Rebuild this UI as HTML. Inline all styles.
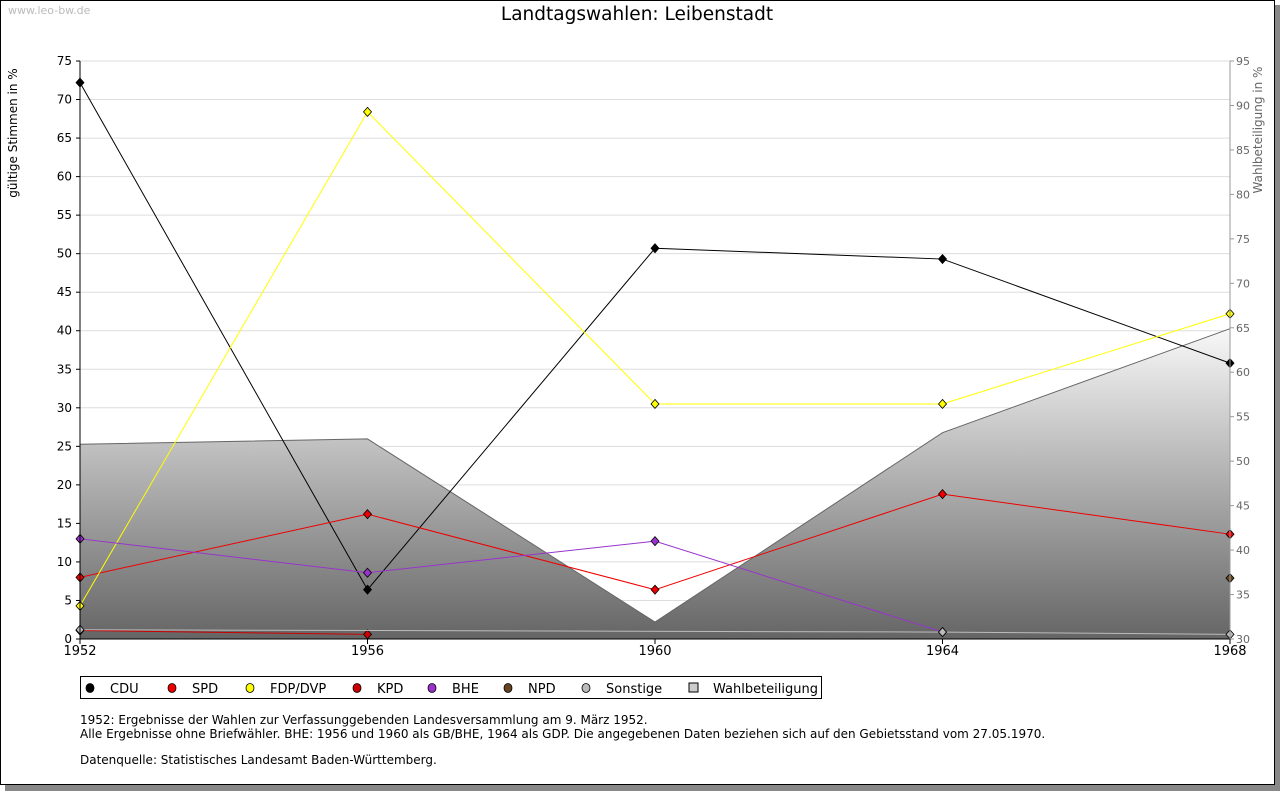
<!DOCTYPE html>
<html><head><meta charset="utf-8"><style>
body{margin:0;background:#fff;font-family:"DejaVu Sans","Liberation Sans",sans-serif;}
svg text{font-family:"DejaVu Sans","Liberation Sans",sans-serif;}
</style></head><body>
<svg id="chart" width="1280" height="791" xmlns="http://www.w3.org/2000/svg">
<defs>
<linearGradient id="wg" gradientUnits="userSpaceOnUse" x1="0" y1="329" x2="0" y2="639">
<stop offset="0" stop-color="#f8f8f8"/><stop offset="0.35" stop-color="#c4c4c4"/><stop offset="1" stop-color="#656565"/>
</linearGradient>
</defs>
<rect x="5" y="5" width="1275" height="786" fill="#888"/>
<rect x="0.5" y="0.5" width="1274" height="784" fill="#fff" stroke="#000"/>
<text x="8" y="14" font-size="11" fill="#bbb">www.leo-bw.de</text>
<text x="637" y="20" font-size="18.5" text-anchor="middle">Landtagswahlen: Leibenstadt</text>
<g id="grid"></g>
<g id="area"></g>
<g id="lines"></g>
<g id="axes"></g>
<text transform="translate(17,133) rotate(-90)" font-size="12" text-anchor="middle">gültige Stimmen in %</text>
<text transform="translate(1262,130) rotate(-90)" font-size="12" fill="#666" text-anchor="middle">Wahlbeteiligung in %</text>
<rect x="80.5" y="676.5" width="741" height="22" fill="#fff" stroke="#000"/>
<g id="legend"></g>
<g font-size="12">
<text x="80" y="724">1952: Ergebnisse der Wahlen zur Verfassunggebenden Landesversammlung am 9. März 1952.</text>
<text x="80" y="738">Alle Ergebnisse ohne Briefwähler. BHE: 1956 und 1960 als GB/BHE, 1964 als GDP. Die angegebenen Daten beziehen sich auf den Gebietsstand vom 27.05.1970.</text>
<text x="80" y="764">Datenquelle: Statistisches Landesamt Baden-Württemberg.</text>
</g>
</svg>
<script>
const years=[1952,1956,1960,1964,1968];
const leftTicks=[0,5,10,15,20,25,30,35,40,45,50,55,60,65,70,75];
const rightTicks=[30,35,40,45,50,55,60,65,70,75,80,85,90,95];
const cdu=[72.2,6.4,50.7,49.3,35.8];
const spd=[8.0,16.2,6.4,18.8,13.6];
const fdp=[4.3,68.4,30.5,30.5,42.2];
const kpd=[1.1,0.6,null,null,null];
const bhe=[13.0,8.6,12.7,0.9,null];
const npd=[null,null,null,null,7.9];
const sonstige=[1.2,null,null,0.9,0.6];
const turnout=[51.9,52.5,31.9,53.2,64.9];
const NS='http://www.w3.org/2000/svg';
const X0=80,X1=1230,Y0=639,Y1=61;
const xs=i=>X0+(X1-X0)*(years[i]-years[0])/(years[years.length-1]-years[0]);
const yl=v=>Y0-(Y0-Y1)*v/75;
const yr=v=>Y0-(Y0-Y1)*(v-30)/65;
function mk(p,t,a){const e=document.createElementNS(NS,t);for(const k in a)e.setAttribute(k,a[k]);document.getElementById(p).appendChild(e);return e;}
leftTicks.forEach(t=>{
 const g=mk('grid','line',{x1:X0,x2:X1,y1:yl(t),y2:yl(t),stroke:'#ddd'});
 
 
 const l=mk('axes','text',{x:72,y:yl(t)+4,'font-size':12,'text-anchor':'end'});l.textContent=t;
 
 
 mk('axes','line',{x1:X0-4,x2:X0,y1:yl(t),y2:yl(t),stroke:'#000'});
});
rightTicks.forEach(t=>{
 const l=mk('axes','text',{x:1236,y:yr(t)+4,'font-size':11,fill:'#666'});l.textContent=t;
 
 
 mk('axes','line',{x1:X1,x2:X1+4,y1:yr(t),y2:yr(t),stroke:'#999'});
});
years.forEach((y,i)=>{
 const l=mk('axes','text',{x:xs(i),y:655,'font-size':13,'text-anchor':'middle'});l.textContent=y;
 
 
 mk('axes','line',{x1:xs(i),x2:xs(i),y1:Y0,y2:Y0+5,stroke:'#000'});
});
mk('axes','line',{x1:X0,x2:X0,y1:Y1,y2:Y0,stroke:'#000'});
mk('axes','line',{x1:X0,x2:X1,y1:Y0,y2:Y0,stroke:'#000'});
mk('axes','line',{x1:X1,x2:X1,y1:Y1,y2:Y0,stroke:'#999'});
let d='M'+X0+','+Y0;turnout.forEach((v,i)=>d+=' L'+xs(i)+','+yr(v));d+=' L'+X1+','+Y0+'Z';
const ar=mk('area','path',{d:d,fill:'url(#wg)'});


let d2='';turnout.forEach((v,i)=>d2+=(i?' L':'M')+xs(i)+','+yr(v));
mk('area','path',{d:d2,fill:'none',stroke:'#666'});
const series=[['cdu',cdu,'#000'],['spd',spd,'#e00'],['fdp',fdp,'#ff0'],['kpd',kpd,'#c00'],['bhe',bhe,'#93c'],['npd',npd,'#642'],['sonstige',sonstige,'#bbb']];
series.forEach(([n,arr,c])=>{
 const pts=[];arr.forEach((v,i)=>{if(v!==null)pts.push([xs(i),yl(v)]);});
 if(pts.length>1){const p=mk('lines','path',{d:pts.map((q,j)=>(j?'L':'M')+q[0]+','+q[1]).join(' '),fill:'none',stroke:c});
  
  }
 pts.forEach(q=>{const m=mk('lines','path',{d:`M${q[0]},${q[1]-4.5} L${q[0]+4},${q[1]} L${q[0]},${q[1]+4.5} L${q[0]-4},${q[1]}Z`,fill:c,stroke:'#000','stroke-width':0.8});
  
  });
});
const leg=[['CDU','#000',90],['SPD','#e00',172],['FDP/DVP','#ff0',250],['KPD','#c00',357],['BHE','#93c',432],['NPD','#642',508],['Sonstige','#bbb',586],['Wahlbeteiligung','#ccc',693]];
leg.forEach(([t,c,x],i)=>{
 let m;
 if(i===7) m=mk('legend','rect',{x:x-4,y:683,width:9,height:9,fill:c,stroke:'#000'});
 else m=mk('legend','ellipse',{cx:x,cy:688,rx:4,ry:4.5,fill:c,stroke:'#000','stroke-width':0.8});
 
 
 const l=mk('legend','text',{x:x+20,y:693,'font-size':13});l.textContent=t;
 
 
});
</script>
</body></html>
